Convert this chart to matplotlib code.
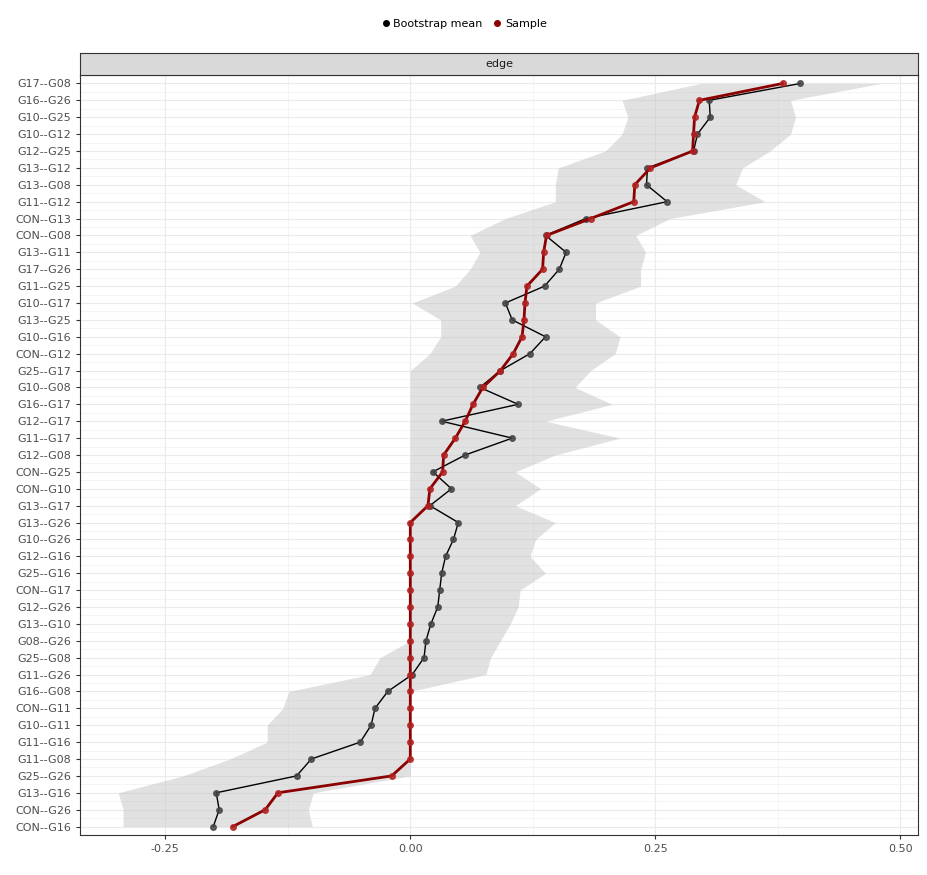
import matplotlib
matplotlib.use("Agg")
import matplotlib.pyplot as plt
import numpy as np

edges = ["G17--G08", "G16--G26", "G10--G25", "G10--G12", "G12--G25", "G13--G12", "G13--G08",
         "G11--G12", "CON--G13", "CON--G08", "G13--G11", "G17--G26", "G11--G25", "G10--G17",
         "G13--G25", "G10--G16", "CON--G12", "G25--G17", "G10--G08", "G16--G17", "G12--G17",
         "G11--G17", "G12--G08", "CON--G25", "CON--G10", "G13--G17", "G13--G26", "G10--G26",
         "G12--G16", "G25--G16", "CON--G17", "G12--G26", "G13--G10", "G08--G26", "G25--G08",
         "G11--G26", "G16--G08", "CON--G11", "G10--G11", "G11--G16", "G11--G08", "G25--G26",
         "G13--G16", "CON--G26", "CON--G16"]
sample = [0.380, 0.295, 0.290, 0.289, 0.288, 0.245, 0.229, 0.228, 0.184, 0.139, 0.136, 0.135,
          0.119, 0.117, 0.116, 0.114, 0.105, 0.092, 0.074, 0.064, 0.056, 0.046, 0.034, 0.033,
          0.020, 0.018, 0, 0, 0, 0, 0, 0, 0, 0, 0, 0, 0, 0, 0, 0, 0, -0.019, -0.135, -0.148, -0.181]
boot_mean = [0.398, 0.305, 0.306, 0.293, 0.289, 0.242, 0.241, 0.262, 0.179, 0.138, 0.159, 0.152,
             0.137, 0.097, 0.104, 0.138, 0.122, 0.092, 0.071, 0.110, 0.032, 0.104, 0.056, 0.023,
             0.042, 0.020, 0.049, 0.044, 0.036, 0.032, 0.030, 0.028, 0.021, 0.016, 0.014, 0.002,
             -0.023, -0.036, -0.040, -0.051, -0.101, -0.116, -0.198, -0.195, -0.201]
ci_lower = [0.296, 0.216, 0.222, 0.216, 0.199, 0.151, 0.148, 0.148, 0.097, 0.061, 0.071, 0.061,
            0.046, 0.002, 0.031, 0.031, 0.020, 0, 0, 0, 0, 0, 0, 0, 0, 0, 0, 0, 0, 0, 0, 0, 0, 0,
            -0.031, -0.041, -0.124, -0.130, -0.146, -0.146, -0.184, -0.232, -0.298, -0.293, -0.293]
ci_upper = [0.480, 0.388, 0.393, 0.388, 0.367, 0.339, 0.332, 0.362, 0.265, 0.230, 0.240, 0.235,
            0.235, 0.189, 0.189, 0.214, 0.209, 0.184, 0.168, 0.206, 0.138, 0.214, 0.148, 0.107,
            0.133, 0.107, 0.148, 0.128, 0.122, 0.138, 0.112, 0.110, 0.102, 0.092, 0.082, 0.077,
            0, 0, 0, 0, 0, 0, -0.099, -0.104, -0.100]

y = np.arange(len(edges))

fig = plt.figure(figsize=(9.27, 8.75), dpi=100)
ax = fig.add_axes([80 / 927, 40 / 875, 838 / 927, 760 / 875])
strip = fig.add_axes([80 / 927, 800 / 875, 838 / 927, 22 / 875])

ax.fill_betweenx(y, ci_lower, ci_upper, color="#bdbdbd", alpha=0.45, lw=0)
ax.plot(boot_mean, y, color="black", lw=1, zorder=3)
ax.scatter(boot_mean, y, color="#444444", s=16, alpha=0.85, zorder=4)
ax.plot(sample, y, color="#8b0000", lw=2, zorder=5)
ax.scatter(sample, y, color="#b22222", s=16, alpha=0.85, zorder=6)

ax.set_ylim(len(edges) - 0.5, -0.5)
ax.set_xlim(-0.337, 0.518)
ax.set_yticks(y)
ax.set_yticks(y[:-1] + 0.5, minor=True)
ax.set_yticklabels(edges, fontsize=8, color="#4d4d4d")
ax.set_xticks([-0.25, 0, 0.25, 0.5])
ax.set_xticklabels(["-0.25", "0.00", "0.25", "0.50"], fontsize=8, color="#4d4d4d")
ax.set_xticks([-0.125, 0.125, 0.375], minor=True)
ax.grid(True, which="major", color="#ebebeb", lw=0.8)
ax.grid(True, which="minor", color="#f2f2f2", lw=0.6)
ax.set_axisbelow(True)
ax.tick_params(length=3, color="#333333", which="major")
ax.tick_params(length=0, which="minor")
for s in ax.spines.values():
    s.set_color("#333333")

strip.set_facecolor("#d9d9d9")
strip.set_xticks([])
strip.set_yticks([])
for s in strip.spines.values():
    s.set_color("#333333")
strip.text(0.5, 0.5, "edge", ha="center", va="center", fontsize=8, color="#1a1a1a",
           transform=strip.transAxes)

h1 = plt.Line2D([], [], marker="o", ls="", color="black", markersize=4)
h2 = plt.Line2D([], [], marker="o", ls="", color="#8b0000", markersize=4)
fig.legend([h1, h2], ["Bootstrap mean", "Sample"], loc="center", bbox_to_anchor=(0.5, 1 - 24 / 875),
           ncol=2, frameon=False, fontsize=8, handletextpad=0.2, columnspacing=0.8,
           handlelength=1.0)

fig.savefig("out.png", dpi=100)
